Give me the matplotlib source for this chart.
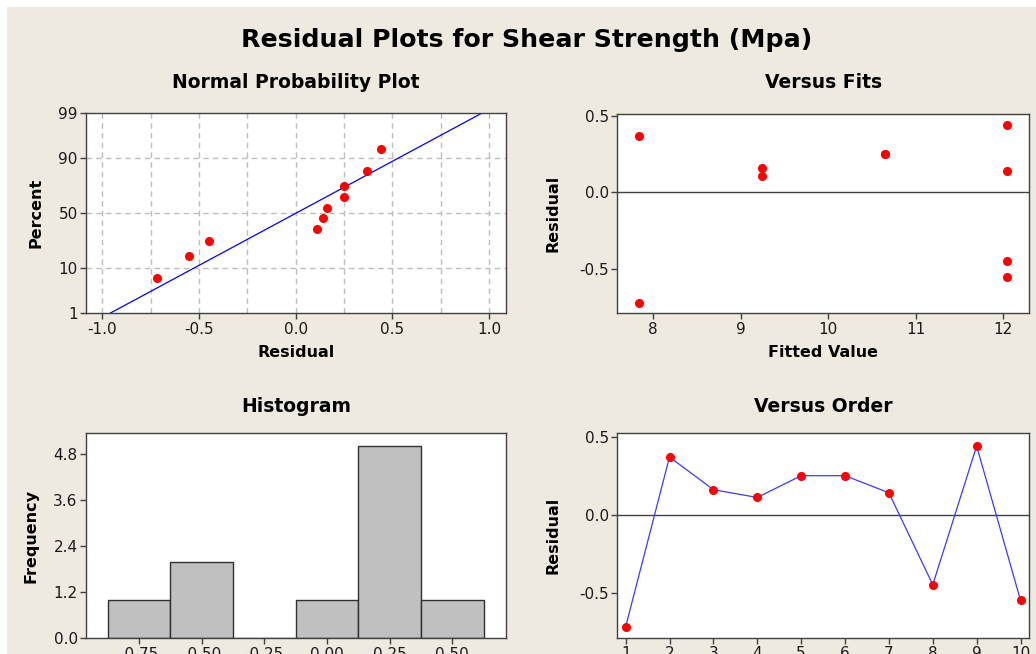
import numpy as np
import matplotlib
matplotlib.use("Agg")
import matplotlib.pyplot as plt
from matplotlib.patches import Rectangle
from statistics import NormalDist

plt.rcParams["font.family"] = ["DejaVu Sans"]
plt.rcParams["axes.unicode_minus"] = False

# residuals in observation order, with their fitted values
order = [1, 2, 3, 4, 5, 6, 7, 8, 9, 10]
residuals = [-0.72, 0.37, 0.16, 0.11, 0.25, 0.25, 0.14, -0.45, 0.44, -0.55]
fitted = [7.837, 7.837, 9.239, 9.239, 10.651, 10.651, 12.05, 12.05, 12.05, 12.05]

# normal probability plot: sorted residuals vs percent
percent = [6.7, 16.3, 26.0, 35.6, 45.2, 54.8, 64.4, 74.0, 83.7, 93.3]
prob_ticks = [1, 10, 50, 90, 99]

# histogram bins
bin_centers = [-0.75, -0.50, -0.25, 0.00, 0.25, 0.50]
bin_width = 0.25

BG = "#EEEAE0"
RED = "#FF0000"
BLUE = "#0000FF"
EDGE = "#404040"

W, H = 1036, 654
fig = plt.figure(figsize=(W / 100, H / 100), dpi=100, facecolor="white")
fig.patches.append(Rectangle((7 / W, 0), 1, 1 - 7 / H, transform=fig.transFigure,
                             facecolor=BG, edgecolor="none", zorder=-10))


def px(left, top, right, bottom):
    return [left / W, 1 - bottom / H, (right - left) / W, (bottom - top) / H]


def style(ax):
    ax.set_facecolor("white")
    for s in ax.spines.values():
        s.set_color(EDGE)
        s.set_linewidth(1.0)
    ax.tick_params(direction="out", length=4, width=1, color=EDGE,
                   labelsize=11, labelcolor="#1a1a1a", top=False, right=False, pad=2)


title_kw = dict(fontsize=13.5, fontweight="bold")
label_kw = dict(fontsize=11.5, fontweight="bold")

fig.text(527 / W, 1 - 47 / H, "Residual Plots for Shear Strength (Mpa)",
         ha="center", va="baseline", fontsize=18.2, fontweight="bold")

# --- Normal probability plot
ax1 = fig.add_axes(px(86, 113.3, 505.7, 313.3))
style(ax1)
nd = NormalDist()
_ppf = np.vectorize(nd.inv_cdf, otypes=[float])
_cdf = np.vectorize(nd.cdf, otypes=[float])


def fwd(p):
    p = np.clip(np.asarray(p, dtype=float) / 100.0, 1e-9, 1 - 1e-9)
    return _ppf(p)


def inv(z):
    return _cdf(np.asarray(z, dtype=float)) * 100.0


ax1.set_yscale("function", functions=(fwd, inv))
ax1.set_ylim(1, 99)
ax1.set_xlim(-1.085, 1.086)
ax1.set_yticks(prob_ticks)
ax1.set_yticklabels([str(t) for t in prob_ticks])
ax1.yaxis.set_minor_locator(matplotlib.ticker.NullLocator())
ax1.set_xticks([-1.0, -0.5, 0.0, 0.5, 1.0])
for gx in np.arange(-1.0, 1.01, 0.25):
    ax1.axvline(gx, color="#BDBDBD", lw=1, ls=(0, (4, 3)), zorder=0)
for gy in [10, 50, 90]:
    ax1.axhline(gy, color="#BDBDBD", lw=1, ls=(0, (4, 3)), zorder=0)
mu = np.mean(residuals)
sd = np.std(residuals, ddof=1)
line_p = np.linspace(1, 99, 200)
ax1.plot(mu + sd * fwd(line_p), line_p, color=BLUE, lw=0.9, zorder=2)
ax1.plot(np.sort(residuals), percent, "o", color=RED, ms=5.5, mec=RED, zorder=3)
ax1.set_title("Normal Probability Plot", pad=18.5, **title_kw)
ax1.set_xlabel("Residual", labelpad=6, **label_kw)
ax1.set_ylabel("Percent", **label_kw)
ax1.yaxis.set_label_coords(-0.102, 0.5)

# --- Versus fits
ax2 = fig.add_axes(px(617.3, 114, 1029.3, 313.3))
style(ax2)
ax2.set_xlim(7.59, 12.3)
ax2.set_ylim(-0.788, 0.511)
ax2.set_xticks([8, 9, 10, 11, 12])
ax2.set_yticks([-0.5, 0.0, 0.5])
ax2.axhline(0, color=EDGE, lw=1, zorder=1)
ax2.plot(fitted, residuals, "o", color=RED, ms=5.5, mec=RED, zorder=3)
ax2.set_title("Versus Fits", pad=18.5, **title_kw)
ax2.set_xlabel("Fitted Value", labelpad=6, **label_kw)
ax2.set_ylabel("Residual", **label_kw)
ax2.yaxis.set_label_coords(-0.139, 0.5)

# --- Histogram
ax3 = fig.add_axes(px(86, 433.3, 505.7, 638.3))
style(ax3)
edges = np.append(np.array(bin_centers) - bin_width / 2, bin_centers[-1] + bin_width / 2)
ax3.hist(residuals, bins=edges, color="#C0C0C0", edgecolor="#303030", lw=1)
ax3.set_xlim(-0.961, 0.713)
ax3.set_ylim(0, 5.34)
ax3.set_xticks(bin_centers)
ax3.set_yticks([0.0, 1.2, 2.4, 3.6, 4.8])
ax3.set_title("Histogram", pad=15, **title_kw)
ax3.set_ylabel("Frequency", **label_kw)
ax3.yaxis.set_label_coords(-0.114, 0.5)

# --- Versus order
ax4 = fig.add_axes(px(617.3, 433.3, 1029.3, 638))
style(ax4)
ax4.set_xlim(0.81, 10.2)
ax4.set_ylim(-0.792, 0.522)
ax4.set_xticks(order)
ax4.set_yticks([-0.5, 0.0, 0.5])
ax4.axhline(0, color=EDGE, lw=1, zorder=1)
ax4.plot(order, residuals, "-", color="#3A3AFF", lw=0.9, zorder=2)
ax4.plot(order, residuals, "o", color=RED, ms=5.5, mec=RED, zorder=3)
ax4.set_title("Versus Order", pad=15, **title_kw)
ax4.set_ylabel("Residual", **label_kw)
ax4.yaxis.set_label_coords(-0.139, 0.5)

fig.savefig("out.png", dpi=100, facecolor=fig.get_facecolor())
